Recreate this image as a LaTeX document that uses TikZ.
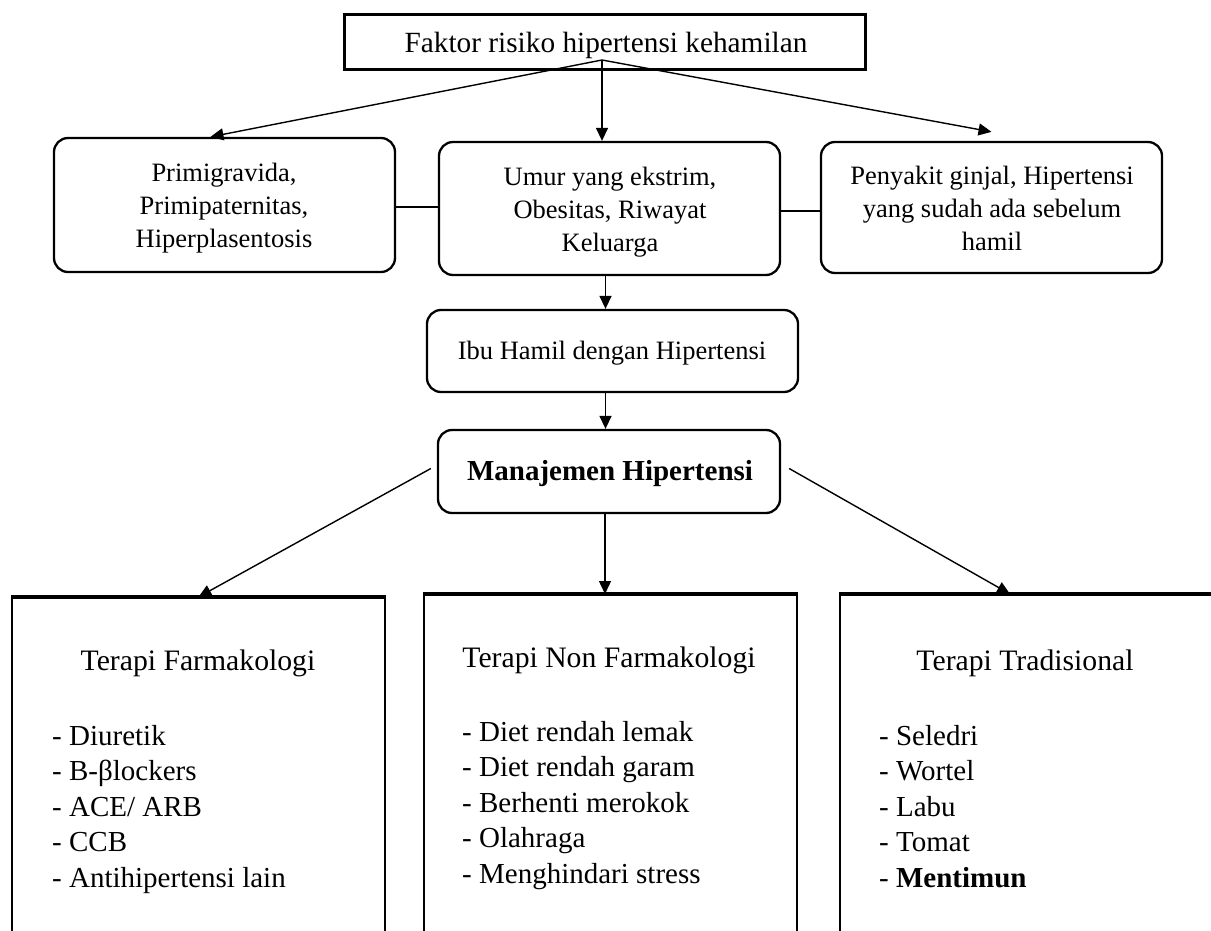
\documentclass[tikz,border=0pt]{standalone}
\usepackage{fontspec}
\setmainfont{Liberation Serif}
\usetikzlibrary{arrows.meta}
\newcommand\fTop{\fontsize{29.3}{33}\selectfont}
\newcommand\fMid{\fontsize{26.5}{33}\selectfont}
\newcommand\fBot{\fontsize{29}{35.5}\selectfont}
\begin{document}
\begin{tikzpicture}[x=1pt,y=-1pt,
  sqbox/.style={draw, line width=2.4pt, inner sep=0pt},
  rbox/.style={draw, line width=2.3pt, rounded corners=14pt, inner sep=0pt},
  txt/.style={inner sep=0pt, align=center, font=\fMid},
  tbox/.style={draw, line width=2pt, inner sep=0pt, anchor=north, minimum width=373pt, minimum height=420pt},
  arr/.style={line width=1.4pt, -{Triangle[length=13pt,width=12pt]}},
  link/.style={line width=1.8pt},
  ttl/.style={inner sep=0pt, font=\fontsize{29.7}{35.5}\selectfont},
  lst/.style={inner sep=0pt, font=\fBot, align=left, anchor=north west}
]
\useasboundingbox (0,0) rectangle (1211,931);
\clip (0,0) rectangle (1211,931);
\fill[white] (0,0) rectangle (1211,931);

\node[sqbox, minimum width=521pt, minimum height=55pt] (top) at (605,42) {};
\node[txt, font=\fTop] (toptxt) at (606,45) {Faktor risiko hipertensi kehamilan};
\coordinate (src) at (602,60);

\node[rbox, minimum width=341pt, minimum height=134pt] (left) at (224.5,205) {};
\node[txt] (lefttxt) at (224,208) {Primigravida,\\Primipaternitas,\\Hiperplasentosis};
\node[rbox, minimum width=341pt, minimum height=133pt] (mid) at (609.5,208.5) {};
\node[txt] (midtxt) at (610,212) {Umur yang ekstrim,\\Obesitas, Riwayat\\Keluarga};
\node[rbox, minimum width=341pt, minimum height=131pt] (right) at (991.5,207.5) {};
\node[txt] (righttxt) at (992,208.5) {Penyakit ginjal, Hipertensi\\yang sudah ada sebelum\\hamil};
\node[rbox, minimum width=371pt, minimum height=82pt] (ibu) at (612.5,351) {};
\node[txt] (ibutxt) at (612,353) {Ibu Hamil dengan Hipertensi};
\node[rbox, minimum width=342pt, minimum height=83pt] (man) at (609,471.5) {};
\node[txt, font=\fontsize{29}{33}\selectfont\bfseries] (mantxt) at (610,474) {Manajemen Hipertensi};

\node[tbox] (b1) at (198.5,597) {};
\node[tbox] (b2) at (610,594) {};
\node[tbox] (b3) at (1026,594) {};
\draw[line width=3.4pt] (b1.north west) -- (b1.north east);
\draw[line width=3.4pt] (b2.north west) -- (b2.north east);
\draw[line width=3.4pt] (b3.north west) -- (b3.north east);

% connectors
\draw[arr] (src) -- ([xshift=-14pt]left.north);
\draw[arr] (src) -- (src |- mid.north);
\draw[arr] (src) -- ([yshift=9pt]right.north);
\draw[link] ([yshift=-2pt]left.east) -- ([yshift=-2pt]left.east -| mid.west);
\draw[link] ([yshift=-2.5pt]mid.east) -- ([yshift=-2.5pt]mid.east -| right.west);
\draw[arr] ([xshift=-4pt]mid.south) -- ([xshift=-4pt]mid.south |- ibu.north);
\draw[arr] ([xshift=-7pt]ibu.south) -- ([xshift=-7pt]ibu.south |- man.north);
\coordinate (mL) at ([xshift=-6pt,yshift=3pt]man.west);
\coordinate (mR) at ([xshift=8pt,yshift=3pt]man.east);
\draw[arr] (mL) -- (b1.north);
\draw[arr] ([xshift=-4pt]man.south) -- ([xshift=-4pt]man.south |- b2.north);
\draw[arr] (mR) -- ([xshift=-16pt]b3.north);

% texts in bottom boxes
\node[ttl] (t1) at (198,663) {Terapi Farmakologi};
\node[ttl] (t2) at (609,660) {Terapi Non Farmakologi};
\node[ttl] (t3) at (1025,663) {Terapi Tradisional};
\node[lst] (l1) at (52,725) {- Diuretik\\- B-βlockers\\- ACE/ ARB\\- CCB\\- Antihipertensi lain};
\node[lst] (l2) at (462,721) {- Diet rendah lemak\\- Diet rendah garam\\- Berhenti merokok\\- Olahraga\\- Menghindari stress};
\node[lst] (l3) at (879,725) {- Seledri\\- Wortel\\- Labu\\- Tomat\\- \textbf{Mentimun}};
\end{tikzpicture}
\end{document}
